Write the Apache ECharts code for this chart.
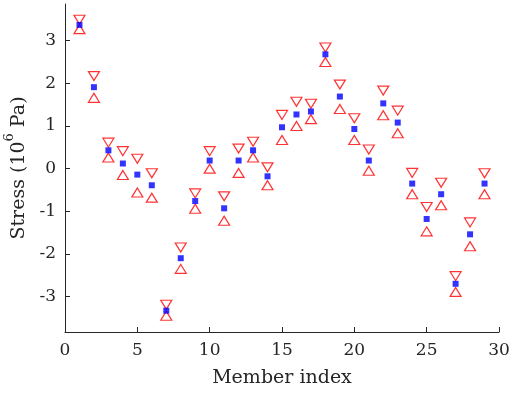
<!DOCTYPE html>
<html>
<head>
<meta charset="utf-8">
<script src="https://cdn.jsdelivr.net/npm/echarts@6/dist/echarts.min.js"></script>
<style>
  html, body { margin: 0; padding: 0; background: #fff; }
  #chart { width: 510px; height: 394px; }
</style>
</head>
<body>
<div id="chart"></div>
<script>
// Member stress estimates: mean value with upper and lower bounds (10^6 Pa)
const memberIndex = [1,2,3,4,5,6,7,8,9,10,11,12,13,14,15,16,17,18,19,20,21,22,23,24,25,26,27,28,29];
const stressMean  = [3.37,1.91,0.43,0.12,-0.14,-0.39,-3.33,-2.10,-0.76,0.19,-0.93,0.19,0.43,-0.18,0.97,1.27,1.34,2.68,1.69,0.93,0.19,1.53,1.08,-0.35,-1.18,-0.60,-2.70,-1.54,-0.35];
const stressUpper = [3.49,2.17,0.61,0.41,0.23,-0.11,-3.19,-1.85,-0.58,0.41,-0.65,0.47,0.63,0.03,1.26,1.57,1.52,2.84,1.97,1.18,0.45,1.83,1.36,-0.10,-0.90,-0.33,-2.52,-1.26,-0.11];
const stressLower = [3.27,1.66,0.26,-0.15,-0.56,-0.68,-3.45,-2.35,-0.94,0.00,-1.22,-0.10,0.26,-0.39,0.67,1.00,1.16,2.50,1.40,0.67,-0.05,1.25,0.83,-0.60,-1.47,-0.86,-2.89,-1.82,-0.60];
const xTicks = [0,5,10,15,20,25,30];
const yTicks = [-3,-2,-1,0,1,2,3];

const pairs = (ys) => memberIndex.map((x, i) => [x, ys[i]]);
const font = '"DejaVu Serif", "Liberation Serif", serif';
const axisColor = '#262626';

const chart = echarts.init(document.getElementById('chart'), null, { renderer: 'canvas' });
chart.setOption({
  animation: false,
  backgroundColor: '#ffffff',
  grid: { left: 65, right: 11, top: 4, bottom: 62, containLabel: false, outerBoundsMode: 'none' },
  xAxis: {
    type: 'value',
    min: xTicks[0], max: xTicks[xTicks.length - 1], interval: 5,
    name: 'Member index',
    nameLocation: 'middle', nameGap: 37,
    nameTextStyle: { fontFamily: font, fontSize: 19, color: axisColor },
    axisLine: { show: true, onZero: false, lineStyle: { color: axisColor, width: 1 } },
    axisTick: { show: true, inside: true, length: 5, lineStyle: { color: axisColor } },
    axisLabel: { fontFamily: font, fontSize: 17, color: axisColor, margin: 10 },
    splitLine: { show: false }
  },
  yAxis: {
    type: 'value',
    min: -3.83, max: 3.86,
    axisLabel: {
      fontFamily: font, fontSize: 17, color: axisColor, margin: 9,
      customValues: yTicks
    },
    axisTick: { show: true, inside: true, length: 5, lineStyle: { color: axisColor }, customValues: yTicks },
    name: '{a|Stress (10}{s|6}{a| Pa)}',
    nameLocation: 'middle', nameGap: 36, nameRotate: 90,
    nameTextStyle: {
      color: axisColor,
      rich: {
        a: { fontFamily: font, fontSize: 19, color: axisColor, lineHeight: 25, verticalAlign: 'bottom' },
        s: { fontFamily: font, fontSize: 13, color: axisColor, lineHeight: 25, verticalAlign: 'top' }
      }
    },
    axisLine: { show: true, onZero: false, lineStyle: { color: axisColor, width: 1 } },
    splitLine: { show: false }
  },
  series: [
    {
      name: 'upper', type: 'scatter', data: pairs(stressUpper),
      symbol: 'triangle', symbolRotate: 180, symbolSize: [11, 9],
      itemStyle: { color: 'rgba(0,0,0,0)', borderColor: '#ff0000', borderWidth: 1.2 },
      z: 2
    },
    {
      name: 'lower', type: 'scatter', data: pairs(stressLower),
      symbol: 'triangle', symbolSize: [11, 9],
      itemStyle: { color: 'rgba(0,0,0,0)', borderColor: '#ff0000', borderWidth: 1.2 },
      z: 2
    },
    {
      name: 'mean', type: 'scatter', data: pairs(stressMean),
      symbol: 'rect', symbolSize: 6,
      itemStyle: { color: '#0000ff' },
      z: 3
    }
  ]
});
</script>
</body>
</html>
